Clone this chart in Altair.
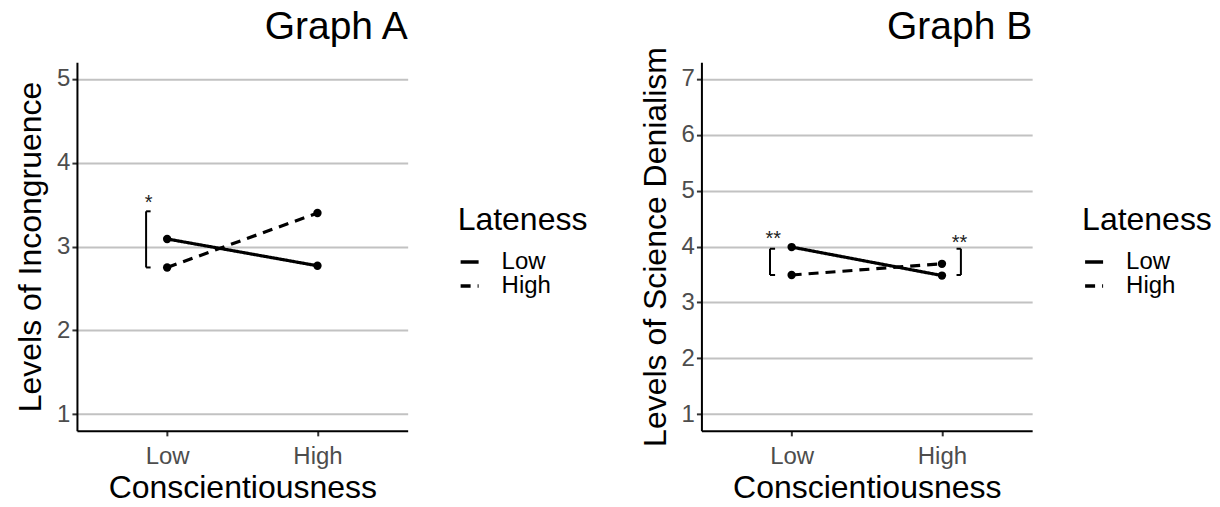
import altair as alt
import pandas as pd

# ---- data ----
consc = ["Low", "High"]            # x categories (Conscientiousness)
consc_pos = [1, 2]
lateness = ["Low", "High"]         # series (Lateness)

a_low_late = [3.09, 2.77]
a_high_late = [2.75, 3.40]
b_low_late = [3.99, 3.48]
b_high_late = [3.49, 3.69]

a_yticks = [1, 2, 3, 4, 5]
b_yticks = [1, 2, 3, 4, 5, 6, 7]

# significance brackets (data units)
a_br_x = [0.86]
a_br_xt = [0.89]
a_br_lo = [2.75]
a_br_hi = [3.42]
a_star_x = [0.877]
a_star_y = [3.58]
a_star_t = ["*"]

b_br_x = [0.856, 2.126]
b_br_xt = [0.89, 2.097]
b_br_lo = [3.49, 3.49]
b_br_hi = [3.96, 3.96]
b_star_x = [0.878, 2.117]
b_star_y = [4.22, 4.16]
b_star_t = ["**", "**"]

FONT = "Liberation Sans"
label_expr = "datum.value == 1 ? '%s' : '%s'" % (consc[0], consc[1])


def panel(title, ytitle, low, high, ydomain, yticks, bx, bxt, blo, bhi, sx, sy, st,
          title_offset):
    df = pd.DataFrame({
        "x": consc_pos * 2,
        "Conscientiousness": consc * 2,
        "Lateness": [lateness[0]] * 2 + [lateness[1]] * 2,
        "y": low + high,
    })
    vert = pd.DataFrame({"x": bx, "y": blo, "y2": bhi})
    ticks = pd.DataFrame({"x": bx + bx, "xt": bxt + bxt, "y": blo + bhi})
    stars = pd.DataFrame({"x": sx, "y": sy, "label": st})

    xenc = alt.X("x:Q",
                 scale=alt.Scale(domain=[0.4, 2.6], nice=False, zero=False),
                 axis=alt.Axis(values=consc_pos, labelExpr=label_expr,
                               title="Conscientiousness", grid=False))
    yenc = alt.Y("y:Q",
                 scale=alt.Scale(domain=ydomain, nice=False, zero=False),
                 axis=alt.Axis(values=yticks, format="d", title=ytitle, grid=True))

    lines = alt.Chart(df).mark_line(color="black", strokeWidth=3.2).encode(
        x=xenc, y=yenc,
        strokeDash=alt.StrokeDash(
            "Lateness:N",
            scale=alt.Scale(domain=lateness, range=[[1, 0], [10, 7]]),
            legend=alt.Legend(title="Lateness", orient="none",
                              legendX=381, legendY=143)),
        order="x:Q",
    )
    pts = alt.Chart(df).mark_circle(color="black", size=70, opacity=1).encode(
        x="x:Q", y="y:Q", detail="Lateness:N")
    vrule = alt.Chart(vert).mark_rule(color="black", strokeWidth=2).encode(
        x="x:Q", y="y:Q", y2="y2:Q")
    hrule = alt.Chart(ticks).mark_rule(color="black", strokeWidth=2).encode(
        x="x:Q", x2="xt:Q", y="y:Q")
    txt = alt.Chart(stars).mark_text(fontSize=20, color="#222222", baseline="middle",
                                     dy=5, font=FONT).encode(
        x="x:Q", y="y:Q", text="label:N")

    return alt.layer(lines, pts, vrule, hrule, txt).properties(
        width=331, height=369,
        title=alt.TitleParams(text=title, anchor="end", frame="group", fontSize=39,
                              fontWeight="normal", font=FONT, offset=title_offset,
                              baseline="alphabetic", color="black"),
    )


pa = panel("Graph A", "Levels of Incongruence", a_low_late, a_high_late,
           [0.8, 5.2], a_yticks, a_br_x, a_br_xt, a_br_lo, a_br_hi,
           a_star_x, a_star_y, a_star_t, -16)
pb = panel("Graph B", "Levels of Science Denialism", b_low_late, b_high_late,
           [0.7, 7.3], b_yticks, b_br_x, b_br_xt, b_br_lo, b_br_hi,
           b_star_x, b_star_y, b_star_t, -31.5)

chart = alt.hconcat(pa, pb, spacing=51).resolve_scale(
    strokeDash="independent", x="independent", y="independent"
).resolve_legend(strokeDash="independent").properties(
    padding={"left": 6, "top": -1, "right": 0, "bottom": 0}
).configure(font=FONT).configure_view(stroke=None).configure_axis(
    labelFont=FONT, titleFont=FONT,
    domainColor="black", domainWidth=2,
    tickColor="#333333", tickWidth=2, tickSize=5,
    labelFontSize=24, labelColor="#4d4d4d",
    titleFontSize=32, titleFontWeight="normal", titleColor="black",
    gridColor="#c2c2c2", gridWidth=2,
).configure_axisY(titlePadding=9, labelPadding=2).configure_axisX(
    labelPadding=9, titlePadding=4
).configure_legend(
    titleFont=FONT, labelFont=FONT, titleFontSize=32, labelFontSize=24,
    titleFontWeight="normal", titleColor="black", labelColor="black",
    symbolType="stroke", symbolSize=324, symbolStrokeWidth=3.5,
    symbolStrokeColor="black", labelOffset=20, titlePadding=15,
    rowPadding=0, clipHeight=20, padding=0,
)

chart.save("out.html", embed_options={"renderer": "svg", "actions": False})
